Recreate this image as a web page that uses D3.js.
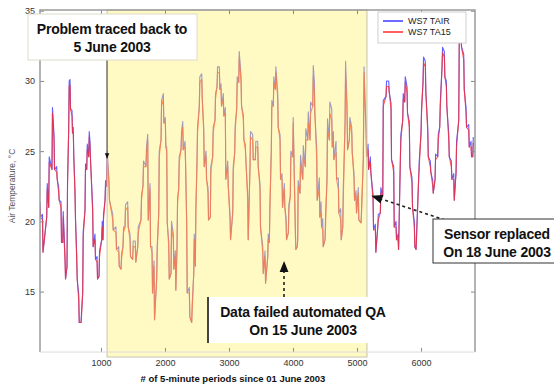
<!DOCTYPE html>
<html>
<head>
<meta charset="utf-8">
<script src="https://cdn.jsdelivr.net/npm/d3@7"></script>
<style>
  body { margin: 0; background: #fff; }
  svg { display: block; font-family: "Liberation Sans", Arial, sans-serif; }
  .tick line { stroke: #888; }
  .tick text { fill: #333; font-size: 9px; }
</style>
</head>
<body>
<svg id="chart" width="554" height="387"></svg>
<script>
// 5-minute sample number since 01 June 2003 (turning points)
const sampleIndex = [
  47,55,86,94,152,160,183,191,234,242,266,274,308,316,339,347,375,383,402,410,438,446,469,477,495,503,516,524,547,555,567,575,594,602,620,628,652,660,688,696,714,722,750,758,777,785,808,816,828,836,870,878,906,914,938,946,969,977,1011,1019,1031,1039,1063,1071,1089,1097,1125,1133,1183,1191,1234,1242,1277,1285,1313,1321,1344,1352,1375,1383,1417,1425,1453,1461,1495,1503,1536,1544,1574,1582,1625,1633,1656,1664,1703,1711,
  1730,1738,1766,1774,1797,1805,1828,1836,1870,1878,1902,1910,1938,1946,1974,1982,2005,2013,2027,2035,2058,2066,2094,2102,2130,2138,2161,2169,2188,2196,2214,2222,2250,2258,2277,2285,2313,2321,2339,2347,2380,2388,2417,2425,2449,2457,2474,2482,2500,2508,2536,2544,2574,2582,2605,2613,2641,2649,2672,2680,2708,2716,2745,2753,2781,2789,2813,2821,2849,2857,2875,2883,2911,2919,2942,2950,2980,2988,3016,3024,3058,3066,3089,3097,3120,3128,3152,3160,3188,3196,3224,3232,3255,3263,3292,3300,3328,3336,3370,3378,3411,3419,
  3448,3456,3484,3492,3527,3535,3563,3571,3605,3613,3630,3638,3661,3669,3692,3700,3724,3732,3761,3769,3797,3805,3828,3836,3864,3872,3891,3899,3927,3935,3958,3966,3995,4003,4036,4044,4066,4073,4081,4109,4117,4152,4160,4192,4200,4230,4238,4266,4274,4308,4316,4333,4341,4370,4378,4411,4419,4438,4446,4464,4472,4500,4508,4531,4539,4567,4575,4605,4613,4630,4638,4672,4680,4708,4716,4745,4753,4777,4785,4813,4821,4844,4852,4880,4888,4917,4925,4953,4961,4984,4992,5020,5028,5063,5071,5098,5110,
  5122,5141,5149,5172,5180,5208,5216,5250,5258,5286,5294,5324,5332,5364,5372,5402,5410,5453,5461,5495,5503,5531,5539,5573,5581,5609,5617,5641,5649,5677,5685,5714,5722,5745,5753,5781,5789,5817,5825,5859,5867,5895,5903,5922,5930,5964,5972,6000,6008,6031,6039,6067,6075,6105,6113,6145,6153,6183,6191,6219,6227,6261,6269,6292,6300,6328,6336,6364,6372,6395,6403,6433,6441,6473,6481,6511,6519,6547,6555,6589,6597,6625,6633,6667,6675,6703,6711,6745,6753,6781,6789,6808,6816
];

// red series
const ta15Values = [
  21.0,20.3,20.1,17.8,20.3,22.3,21.0,24.2,23.7,27.7,25.8,23.7,23.5,23.0,22.0,21.5,21.0,18.5,18.5,20.3,17.1,15.9,16.8,22.5,26.5,29.6,29.7,28.0,27.5,26.3,26.3,24.6,21.8,20.1,17.3,15.9,14.4,12.8,12.8,13.2,14.9,18.9,20.8,23.7,23.7,25.1,24.6,26.0,25.3,24.4,20.6,18.2,18.7,17.3,17.1,15.9,16.1,17.5,18.7,19.6,18.7,20.1,21.5,22.5,22.5,24.6,22.5,21.5,20.1,19.4,19.2,18.0,17.8,16.8,16.6,17.3,18.2,19.2,19.6,20.8,21.0,19.6,18.7,17.5,17.3,18.2,18.2,17.1,18.2,19.2,20.1,21.5,22.5,23.9,23.9,24.9,
  25.8,20.1,22.3,18.2,17.8,14.9,16.8,13.0,15.9,17.8,20.6,24.6,25.8,28.2,28.7,27.0,27.0,25.3,24.9,19.9,18.2,15.9,16.3,19.6,18.7,16.6,17.5,15.1,18.2,21.3,22.3,24.2,25.1,26.0,26.7,25.1,25.3,24.2,19.6,14.9,14.9,13.2,12.8,13.7,16.3,18.7,16.8,20.6,24.2,26.3,28.2,29.9,30.1,28.7,26.3,23.9,24.6,23.0,22.0,20.1,20.3,23.5,24.6,26.3,27.2,28.7,29.6,30.6,30.6,29.4,29.4,28.2,28.7,27.5,27.7,23.0,23.9,22.5,20.1,18.7,20.6,23.5,24.9,26.5,28.0,29.9,29.9,31.7,29.9,28.2,27.2,25.8,25.1,24.4,21.5,18.7,23.9,26.0,25.8,24.4,24.4,25.3,
  25.3,23.9,22.3,19.6,17.8,16.3,17.5,15.6,17.5,18.7,18.5,20.6,25.1,28.2,28.2,29.9,29.4,30.6,28.7,26.7,25.8,23.0,23.0,21.0,22.3,21.0,19.9,18.7,19.2,20.8,21.8,24.6,24.6,27.0,19.2,18.0,18.2,18.7,22.5,22.0,23.9,23.0,24.6,23.9,25.8,25.8,27.0,25.8,27.7,28.2,30.3,29.2,27.7,24.4,21.5,22.3,20.3,20.6,19.6,19.4,18.2,18.7,19.6,23.0,26.5,25.8,27.7,27.2,25.3,25.6,24.4,24.9,23.0,22.3,20.6,20.1,18.7,19.6,21.5,27.0,30.6,27.5,25.1,25.8,27.0,26.3,24.9,23.0,21.5,21.8,20.6,22.0,20.1,19.9,20.6,24.4,30.6,
  28.9,26.3,24.6,25.1,23.7,24.2,23.5,21.5,19.4,19.4,17.8,19.6,20.1,20.6,22.0,21.8,28.2,28.9,29.6,29.6,29.2,28.0,24.4,23.5,19.6,19.6,18.7,18.7,18.0,24.4,25.8,27.2,28.7,28.5,29.9,29.2,27.7,26.7,23.9,22.7,21.0,19.6,18.2,18.0,18.7,23.2,23.9,26.3,27.7,29.9,31.3,31.0,29.2,26.3,24.6,23.9,23.5,22.5,22.0,23.0,24.4,24.6,25.8,26.7,28.0,31.0,32.0,31.7,30.3,29.6,28.2,25.8,24.6,23.9,23.0,23.0,21.5,23.5,25.3,27.2,32.7,32.9,32.4,31.5,29.4,27.7,26.7,26.5,25.3,25.3,24.6,24.6,25.6
];

// blue series
const tairValues = [
  21.4,20.3,20.5,17.8,20.3,22.7,21.0,24.6,23.7,28.1,26.2,23.7,23.9,23.0,22.4,21.5,21.4,18.5,18.5,20.7,17.5,15.9,16.8,22.9,26.5,30.0,30.1,28.0,27.9,26.3,26.7,24.6,22.2,20.1,17.7,15.9,14.8,12.8,12.8,13.6,14.9,19.3,20.8,24.1,23.7,25.5,24.6,26.4,25.7,24.4,21.0,18.2,19.1,17.3,17.5,15.9,16.1,17.9,18.7,20.0,18.7,20.5,21.5,22.9,22.5,25.0,22.9,21.5,20.5,19.4,19.6,18.0,18.2,16.8,16.6,17.7,18.2,19.6,19.6,21.2,21.4,19.6,19.1,17.5,17.3,18.6,18.6,17.1,18.2,19.6,20.1,21.9,22.5,24.3,23.9,25.3,
  26.2,20.1,22.7,18.2,18.2,14.9,17.2,13.0,15.9,18.2,20.6,25.0,25.8,28.6,29.1,27.0,27.4,25.3,25.3,19.9,18.6,15.9,16.3,20.0,19.1,16.6,17.9,15.1,18.2,21.7,22.3,24.6,25.1,26.4,27.1,25.1,25.7,24.2,20.0,14.9,15.3,13.2,12.8,14.1,16.3,19.1,16.8,21.0,24.2,26.7,28.2,30.3,30.5,28.7,26.7,23.9,25.0,23.0,22.4,20.1,20.3,23.9,24.6,26.7,27.2,29.1,29.6,31.0,31.0,29.4,29.8,28.2,29.1,27.5,28.1,23.0,24.3,22.5,20.5,18.7,20.6,23.9,24.9,26.9,28.0,30.3,29.9,32.1,30.3,28.2,27.6,25.8,25.5,24.4,21.9,18.7,23.9,26.4,26.2,24.4,24.4,25.7,
  25.7,23.9,22.7,19.6,18.2,16.3,17.9,15.6,17.5,19.1,18.5,21.0,25.1,28.6,28.2,30.3,29.4,31.0,29.1,26.7,26.2,23.0,23.4,21.0,22.7,21.0,20.3,18.7,19.2,21.2,21.8,25.0,24.6,27.4,19.6,18.0,18.2,18.7,22.9,22.0,24.7,23.0,25.4,23.9,26.6,25.8,27.8,25.8,28.5,28.2,31.1,30.0,27.7,25.2,21.5,23.1,20.3,21.4,19.6,20.2,18.2,18.7,20.4,23.0,27.3,25.8,28.5,28.0,25.3,26.4,24.4,25.7,23.0,23.1,20.6,20.9,18.7,19.6,22.3,27.0,31.4,28.3,25.1,25.8,27.4,26.7,24.9,23.4,21.5,22.2,20.6,22.4,20.1,19.9,21.0,24.4,31.0,
  28.9,26.7,24.6,25.5,23.7,24.6,23.5,21.9,19.4,19.8,17.8,19.6,20.5,20.6,22.4,21.8,28.6,28.9,30.0,30.0,29.2,28.4,24.4,23.9,19.6,20.0,18.7,19.1,18.0,24.4,26.2,27.2,29.1,28.5,30.3,29.6,27.7,27.1,23.9,23.1,21.0,20.0,18.2,18.0,19.1,23.2,24.3,26.3,28.1,29.9,31.7,31.4,29.2,26.7,24.6,24.3,23.5,22.9,22.0,23.0,24.8,24.6,26.2,26.7,28.4,31.0,32.4,32.1,30.3,30.0,28.2,26.2,24.6,24.3,23.0,23.4,21.5,23.5,25.7,27.2,33.1,33.3,32.4,31.9,29.4,28.1,26.7,26.9,25.3,25.7,24.6,24.6,26.0
];

const seriesNames = ['WS7 TAIR', 'WS7 TA15'];
const seriesColors = ['#3a3aff', '#ff2a2a'];
const xTicks = [1000, 2000, 3000, 4000, 5000, 6000];
const yTicks = [15, 20, 25, 30, 35];
const xDomain = [47, 6843];
const yDomain = [10.7, 35.05];

// period flagged (5 June .. 18 June), in sample numbers
const highlight = [1095, 5155];

// annotations: text lines, arrow target in data units
const notes = [
  { lines: ['Problem traced back to', '5 June 2003'], target: [1095, 24.5] },
  { lines: ['Data failed automated QA', 'On 15 June 2003'], target: [3860, 17.1] },
  { lines: ['Sensor replaced', 'On 18 June 2003'], target: [5240, 21.8] }
];

const svg = d3.select('#chart');
const margin = { left: 40, right: 79, top: 10, bottom: 35 };
const width = 554 - margin.left - margin.right;
const height = 387 - margin.top - margin.bottom;

const x = d3.scaleLinear().domain(xDomain).range([margin.left, margin.left + width]);
const y = d3.scaleLinear().domain(yDomain).range([margin.top + height, margin.top]);

svg.append('defs').append('clipPath').attr('id', 'plotclip')
  .append('rect')
  .attr('x', margin.left).attr('y', margin.top)
  .attr('width', width).attr('height', height);

svg.select('defs').append('marker')
  .attr('id', 'head')
  .attr('viewBox', '0 0 10 10')
  .attr('refX', 9).attr('refY', 5)
  .attr('markerWidth', 7).attr('markerHeight', 7)
  .attr('orient', 'auto-start-reverse')
  .append('path').attr('d', 'M0,1 L10,5 L0,9 z').attr('fill', '#111');

// lines
const n = Math.min(sampleIndex.length, ta15Values.length, tairValues.length);
const line = d3.line().x(d => x(d[0])).y(d => y(d[1]));
const plot = svg.append('g').attr('clip-path', 'url(#plotclip)');

[tairValues, ta15Values].forEach((vals, i) => {
  const pts = d3.range(n).map(k => [sampleIndex[k], vals[k]]);
  plot.append('path')
    .datum(pts)
    .attr('fill', 'none')
    .attr('stroke', seriesColors[i])
    .attr('stroke-width', 1.1)
    .attr('stroke-opacity', 0.8)
    .attr('stroke-linejoin', 'round')
    .attr('d', line);
});

// yellow overlay on the suspect period
svg.append('rect')
  .attr('x', x(highlight[0]))
  .attr('y', margin.top)
  .attr('width', x(highlight[1]) - x(highlight[0]))
  .attr('height', height + 5)
  .attr('fill', '#fff06a')
  .attr('fill-opacity', 0.4)
  .attr('stroke', '#c4c4b0')
  .attr('stroke-width', 1);

// axes
const axisG = svg.append('g');
axisG.append('g')
  .attr('transform', `translate(0,${margin.top + height})`)
  .call(d3.axisBottom(x).tickValues(xTicks).tickSize(-4).tickPadding(8).tickFormat(d3.format('d')))
  .call(g => g.select('.domain').remove());
axisG.append('g')
  .attr('transform', `translate(0,${margin.top})`)
  .call(d3.axisTop(x).tickValues(xTicks).tickSize(-4).tickFormat(''))
  .call(g => g.select('.domain').remove());
axisG.append('g')
  .attr('transform', `translate(${margin.left},0)`)
  .call(d3.axisLeft(y).tickValues(yTicks).tickSize(-4).tickPadding(5))
  .call(g => g.select('.domain').remove());
axisG.append('g')
  .attr('transform', `translate(${margin.left + width},0)`)
  .call(d3.axisRight(y).tickValues(yTicks).tickSize(-4).tickFormat(''))
  .call(g => g.select('.domain').remove());

// frame: left, top and right in grey, bottom very light
svg.append('path')
  .attr('d', `M${margin.left},${margin.top + height}V${margin.top}H${margin.left + width}V${margin.top + height}`)
  .attr('fill', 'none')
  .attr('stroke', '#9a9a9a')
  .attr('stroke-width', 1.5);
svg.append('line')
  .attr('x1', margin.left).attr('x2', margin.left + width)
  .attr('y1', margin.top + height).attr('y2', margin.top + height)
  .attr('stroke', '#dcdcdc');

// axis titles
svg.append('text')
  .attr('x', 233).attr('y', 382)
  .attr('text-anchor', 'middle')
  .attr('font-size', 9.5).attr('font-weight', 'bold').attr('fill', '#111')
  .text('# of 5-minute periods since 01 June 2003');

svg.append('text')
  .attr('transform', 'translate(15,186) rotate(-90)')
  .attr('text-anchor', 'middle')
  .attr('font-size', 8.5).attr('fill', '#555')
  .text('Air Temperature, °C');

// legend
const leg = svg.append('g');
leg.append('rect')
  .attr('x', 378).attr('y', 12).attr('width', 88).attr('height', 31)
  .attr('fill', '#fff').attr('stroke', '#d0d0d0');
seriesNames.forEach((name, i) => {
  const ly = 21 + i * 11;
  leg.append('line')
    .attr('x1', 383).attr('x2', 403).attr('y1', ly).attr('y2', ly)
    .attr('stroke', seriesColors[i]).attr('stroke-width', 1.5);
  leg.append('text')
    .attr('x', 408).attr('y', ly + 3)
    .attr('font-size', 9).attr('fill', '#222')
    .text(name);
});

// annotation boxes
const boxes = [
  { x: 28, y: 14, w: 169, h: 46, tx: 112, from: [107, 60], dashed: false, stroke: '#dcdcc8' },
  { x: 208, y: 297, w: 190, h: 46, tx: 303, from: [284, 297], dashed: true, stroke: 'none' },
  { x: 433, y: 219, w: 130, h: 44, tx: 497, from: [445, 220], dashed: true, stroke: '#333' }
];

notes.forEach((note, i) => {
  const b = boxes[i];
  svg.append('line')
    .attr('x1', b.from[0]).attr('y1', b.from[1])
    .attr('x2', x(note.target[0])).attr('y2', y(note.target[1]))
    .attr('stroke', '#222').attr('stroke-width', b.dashed ? 1.6 : 0.8)
    .attr('stroke-dasharray', b.dashed ? '3,3' : null)
    .attr('marker-end', 'url(#head)');
});

notes.forEach((note, i) => {
  const b = boxes[i];
  const g = svg.append('g');
  g.append('rect')
    .attr('x', b.x).attr('y', b.y).attr('width', b.w).attr('height', b.h)
    .attr('fill', '#fff').attr('stroke', b.stroke);
  if (i === 1) {
    g.append('line')
      .attr('x1', b.x).attr('x2', b.x).attr('y1', b.y).attr('y2', b.y + b.h)
      .attr('stroke', '#444').attr('stroke-width', 2);
  }
  note.lines.forEach((t, k) => {
    g.append('text')
      .attr('x', b.tx).attr('y', b.y + 20 + k * 18)
      .attr('text-anchor', 'middle')
      .attr('font-size', 14).attr('font-weight', 'bold').attr('fill', '#111')
      .attr('letter-spacing', -0.2)
      .text(t);
  });
});
</script>
</body>
</html>
